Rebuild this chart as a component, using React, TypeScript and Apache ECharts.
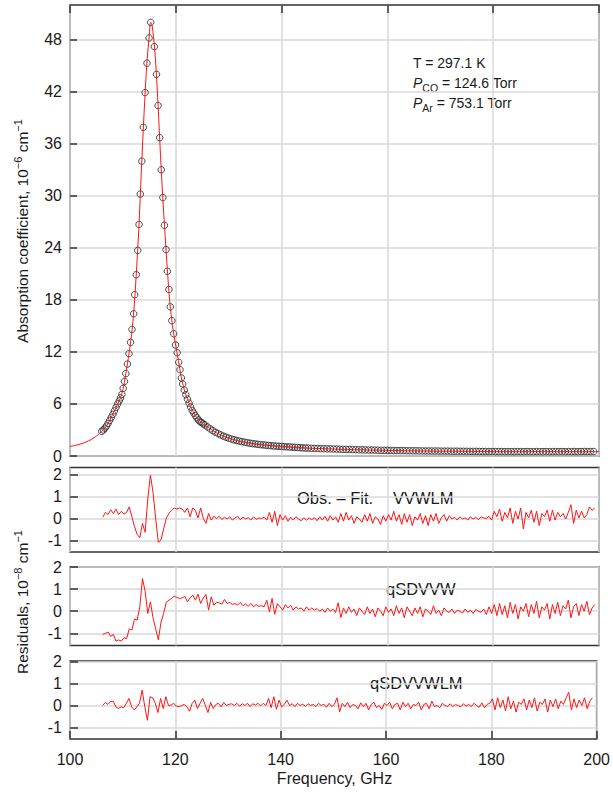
import React, { useEffect, useRef } from "react";
import * as echarts from "echarts";

// ---------- Data ----------
const obsFreq = [
  106.0, 106.3, 106.6, 106.9, 107.2, 107.5, 107.8, 108.1, 108.4, 108.7,
  109.0, 109.3, 109.55, 109.8, 110.05, 110.3, 110.55, 110.85, 111.15, 111.45,
  111.72, 112.04, 112.23, 112.53, 112.8, 113.05, 113.29, 113.58, 113.86, 114.2,
  114.55, 114.95, 115.25,
  115.95, 116.35, 116.65, 116.95, 117.25, 117.55, 117.85, 118.15, 118.4, 118.7,
  118.96, 119.25, 119.6, 119.95, 120.25, 120.55, 120.8, 121.05, 121.3, 121.6,
  121.9, 122.2, 122.5, 122.8, 123.1, 123.4, 123.7, 124.0, 124.3, 124.6,
  124.9, 125.2,
  125.5, 126.0, 126.5, 127.0, 127.5, 128.0, 128.5, 129.0, 129.5, 130.0,
  130.5, 131.0, 131.5, 132.0, 132.5, 133.0, 133.5, 134.0, 134.5, 135.0,
  135.5, 136.0, 136.5, 137.0, 137.5, 138.0, 138.5, 139.0, 139.5, 140.0,
  140.5, 141.0, 141.5, 142.0, 142.5, 143.0, 143.5, 144.0, 144.5, 145.0,
  145.6, 146.2, 146.8, 147.4, 148.0, 148.6, 149.2, 149.8, 150.4, 151.0,
  151.6, 152.2, 152.8, 153.4, 154.0, 154.6, 155.2, 155.8, 156.4, 157.0,
  157.6, 158.2, 158.8, 159.4, 160.0, 160.6, 161.2, 161.8, 162.4, 163.0,
  163.6, 164.2, 164.8, 165.4, 166.0, 166.6, 167.2, 167.8, 168.4, 169.0,
  169.6, 170.2, 170.8, 171.4, 172.0, 172.6, 173.2, 173.8, 174.4, 175.0,
  175.6, 176.2, 176.8, 177.4, 178.0, 178.6, 179.2, 179.8, 180.4, 181.0,
  181.6, 182.2, 182.8, 183.4, 184.0, 184.6, 185.2, 185.8, 186.4, 187.0,
  187.6, 188.2, 188.8, 189.4, 190.0, 190.6, 191.2, 191.8, 192.4, 193.0,
  193.6, 194.2, 194.8, 195.4, 196.0, 196.6, 197.2, 197.8, 198.4, 199.0,
];
const obsVal = [
  2.85, 3.0, 3.2, 3.45, 3.75, 4.1, 4.45, 4.8, 5.2, 5.6,
  6.0, 6.35, 6.7, 7.1, 7.8, 8.6, 9.5, 10.6, 11.8, 13.1,
  14.6, 16.4, 18.6, 20.9, 23.7, 26.7, 30.2, 34.0, 37.9, 41.9,
  45.3, 48.2, 50.0,
  47.2, 44.0, 40.4, 36.7, 33.0, 29.8, 26.6, 23.8, 21.3, 19.2,
  17.2, 15.6, 14.1, 12.8, 11.9, 10.8, 9.95, 9.0, 8.3, 7.6,
  7.07, 6.55, 6.1, 5.65, 5.25, 4.95, 4.65, 4.4, 4.15, 3.95,
  3.85, 3.7,
  3.58, 3.35, 3.12, 2.92, 2.74, 2.58, 2.43, 2.29, 2.17, 2.06,
  1.96, 1.87, 1.79, 1.72, 1.65, 1.59, 1.53, 1.48, 1.43, 1.39,
  1.35, 1.31, 1.28, 1.25, 1.22, 1.19, 1.16, 1.14, 1.12, 1.1,
  1.08, 1.06, 1.04, 1.02, 1.0, 0.98, 0.96, 0.94, 0.92, 0.91,
  0.89, 0.88, 0.87, 0.85, 0.84, 0.83, 0.82, 0.81, 0.8, 0.78,
  0.77, 0.76, 0.75, 0.74, 0.73, 0.72, 0.71, 0.7, 0.69, 0.69,
  0.68, 0.67, 0.66, 0.65, 0.65, 0.64, 0.63, 0.63, 0.62, 0.62,
  0.61, 0.61, 0.6, 0.6, 0.59, 0.59, 0.58, 0.58, 0.57, 0.57,
  0.57, 0.56, 0.56, 0.56, 0.55, 0.55, 0.55, 0.54, 0.54, 0.54,
  0.53, 0.53, 0.53, 0.52, 0.52, 0.52, 0.52, 0.51, 0.51, 0.51,
  0.51, 0.5, 0.51, 0.5, 0.5, 0.51, 0.5, 0.5, 0.51, 0.5,
  0.5, 0.51, 0.5, 0.5, 0.51, 0.5, 0.5, 0.51, 0.5, 0.51,
  0.5, 0.51, 0.5, 0.51, 0.5, 0.51, 0.52, 0.51, 0.51, 0.52,
];

const fitFreq = [
  100, 101, 102, 103, 104, 105, 106, 107, 108, 109,
  109.5, 110, 110.5, 111, 111.5, 112, 112.5, 113, 113.5, 114,
  114.5, 115, 115.25, 115.5, 116, 116.5, 117, 117.5, 118, 118.5,
  119, 119.5, 120, 120.5, 121, 121.5, 122, 122.5, 123, 123.5,
  124, 125, 126, 127, 128, 129, 130, 132, 134, 136,
  138, 140, 142, 145, 150, 155, 160, 165, 170, 175,
  180, 190, 200,
];
const fitVal = [
  1.1, 1.22, 1.38, 1.6, 1.9, 2.3, 2.85, 3.55, 4.7, 6.0,
  6.65, 7.65, 9.3, 11.2, 13.3, 16.2, 20.7, 26.1, 33.0, 39.5,
  45.0, 48.6, 50.0, 49.7, 47.0, 42.2, 36.0, 30.2, 25.3, 20.6,
  16.9, 14.5, 12.7, 11.0, 9.2, 7.85, 6.9, 6.1, 5.4, 4.85,
  4.4, 3.75, 3.35, 2.92, 2.58, 2.29, 2.06, 1.72, 1.48, 1.31,
  1.19, 1.1, 1.02, 0.91, 0.8, 0.71, 0.65, 0.6, 0.56, 0.54,
  0.51, 0.5, 0.5,
];

const residFreq = [
  106.2, 106.7, 107.2, 107.7, 108.2, 108.7, 109.2, 109.7, 110.2, 110.7,
  111.2, 111.7, 112.2, 112.7, 113.2, 113.7, 114.2, 114.7, 115.2, 115.7,
  116.2, 116.7, 117.2, 117.7, 118.2, 118.7, 119.2, 119.7, 120.2, 120.7,
  121.2, 121.7, 122.2, 122.7, 123.2, 123.7, 124.2, 124.7, 125.2, 125.7,
  126.2, 126.7, 127.2, 127.7, 128.2, 128.7, 129.2, 129.7, 130.2, 130.7,
  131.2, 131.7, 132.2, 132.7, 133.2, 133.7, 134.2, 134.7, 135.2, 135.7,
  136.2, 136.7, 137.2, 137.7, 138.2, 138.7, 139.2, 139.7, 140.2, 140.7,
  141.2, 141.7, 142.2, 142.7, 143.2, 143.7, 144.2, 144.7, 145.2, 145.7,
  146.2, 146.7, 147.2, 147.7, 148.2, 148.7, 149.2, 149.7, 150.2, 150.7,
  151.2, 151.7, 152.2, 152.7, 153.2, 153.7, 154.2, 154.7, 155.2, 155.7,
  156.2, 156.7, 157.2, 157.7, 158.2, 158.7, 159.2, 159.7, 160.2, 160.7,
  161.2, 161.7, 162.2, 162.7, 163.2, 163.7, 164.2, 164.7, 165.2, 165.7,
  166.2, 166.7, 167.2, 167.7, 168.2, 168.7, 169.2, 169.7, 170.2, 170.7,
  171.2, 171.7, 172.2, 172.7, 173.2, 173.7, 174.2, 174.7, 175.2, 175.7,
  176.2, 176.7, 177.2, 177.7, 178.2, 178.7, 179.2, 179.7, 180.2, 180.7,
  181.2, 181.7, 182.2, 182.7, 183.2, 183.7, 184.2, 184.7, 185.2, 185.7,
  186.2, 186.7, 187.2, 187.7, 188.2, 188.7, 189.2, 189.7, 190.2, 190.7,
  191.2, 191.7, 192.2, 192.7, 193.2, 193.7, 194.2, 194.7, 195.2, 195.7,
  196.2, 196.7, 197.2, 197.7, 198.2, 198.7, 199.2,
];

const residVVWLM = [
  0.08, 0.3, 0.2, 0.42, 0.25, 0.45, 0.2, 0.35, 0.22, 0.3,
  0.55, 0.1, -0.35, -0.7, -0.85, -0.2, -0.6, 0.9, 2.0, 1.2,
  0.0, -1.06, -0.95, -0.45, 0.03, 0.25, 0.4, 0.5, 0.45, 0.5,
  0.45, 0.3, 0.5, 0.1, 0.5, 0.4, 0.05, 0.5, 0.03, -0.2,
  0.25, -0.05, 0.12, 0.02, 0.12, -0.02, 0.08, 0.0, 0.1, -0.05,
  0.05, 0.12, -0.03, 0.08, 0.0, 0.06, -0.05, 0.1, -0.02, 0.05,
  0.02, 0.08, -0.05, 0.3, -0.15, 0.35, -0.3, 0.2, -0.05, 0.15,
  -0.1, 0.08, -0.05, 0.1, 0.0, -0.08, 0.06, -0.05, 0.05, -0.03,
  0.06, -0.08, 0.1, -0.05, 0.12, -0.1, 0.15, -0.05, 0.1, -0.15,
  0.25, -0.1, 0.3, -0.05, 0.15, -0.2, 0.1, 0.0, -0.15, 0.2,
  -0.1, 0.25, -0.2, 0.1, 0.0, -0.25, 0.15, -0.1, 0.2, -0.05,
  0.35, -0.1, 0.2, -0.25, 0.25, -0.15, 0.2, -0.3, 0.1, -0.05,
  0.25, -0.2, 0.15, -0.3, 0.2, -0.1, 0.25, -0.2, 0.05, 0.2,
  -0.1, 0.15, 0.0, 0.08, -0.05, 0.1, 0.0, 0.05, -0.05, 0.1,
  0.0, 0.08, -0.03, 0.1, 0.05, 0.02, 0.12, -0.05, 0.35, 0.1,
  0.45, -0.1, 0.3, 0.05, 0.5, -0.2, 0.35, 0.0, 0.5, -0.45,
  0.3, 0.05, 0.4, -0.15, 0.35, -0.3, 0.25, 0.1, 0.4, -0.1,
  0.4, -0.05, 0.3, 0.1, 0.25, 0.0, 0.3, 0.65, -0.2, 0.4,
  0.05, 0.35, 0.05, 0.2, 0.55, 0.4, 0.5,
];

const residQSDVVW = [
  -1.05, -1.0, -0.94, -1.14, -1.05, -1.35, -1.3, -1.35, -1.2, -1.24,
  -0.8, -0.85, -0.35, -0.4, 0.2, 1.48, 0.9, -0.1, 0.42, -0.3,
  -0.8, -1.29, -0.5, -0.1, 0.4, 0.5, 0.58, 0.68, 0.62, 0.58,
  0.6, 0.68, 0.42, 0.6, 0.73, 0.5, 0.77, 0.35, 0.6, 0.76,
  0.05, 0.65, 0.27, 0.4, 0.38, 0.32, 0.53, 0.35, 0.4, 0.3,
  0.35, 0.28, 0.4, 0.25, 0.33, 0.22, 0.35, 0.2, 0.3, 0.22,
  0.25, 0.2, 0.5, -0.03, 0.58, -0.14, 0.35, 0.2, 0.05, 0.3,
  0.15, 0.27, 0.05, 0.2, 0.1, 0.15, 0.0, 0.2, 0.05, 0.15,
  0.05, 0.12, 0.0, 0.1, -0.05, 0.15, 0.0, 0.1, -0.05, 0.38,
  -0.29, 0.15, -0.1, 0.2, -0.05, 0.1, -0.2, 0.15, 0.0, -0.15,
  0.2, -0.1, 0.1, -0.25, 0.15, 0.0, -0.2, 0.2, -0.05, 0.1,
  -0.2, 0.25, -0.1, 0.15, -0.3, 0.2, 0.0, -0.2, 0.15, -0.1,
  0.2, -0.25, 0.1, 0.0, -0.15, 0.25, -0.1, 0.05, -0.2, 0.15,
  0.0, -0.05, 0.1, -0.1, 0.05, 0.0, -0.08, 0.1, -0.05, 0.05,
  -0.1, 0.08, 0.0, -0.05, 0.1, -0.15, 0.2, -0.1, 0.3, -0.2,
  0.35, -0.15, 0.25, -0.3, 0.4, -0.1, 0.3, -0.35, 0.2, 0.0,
  0.35, -0.25, 0.3, -0.1, 0.45, -0.3, 0.2, 0.05, 0.35, -0.35,
  0.3, -0.1, 0.4, -0.2, 0.25, 0.1, 0.5, -0.3, 0.2, 0.35,
  -0.2, 0.3, 0.0, 0.45, -0.15, 0.15, 0.3,
];

const residQSDVVWLM = [
  0.0, 0.14, 0.05, 0.18, 0.2, -0.06, -0.14, -0.06, -0.1, 0.1,
  0.32, -0.06, -0.2, -0.06, 0.1, 0.7, -0.06, -0.67, 0.4, 0.35,
  0.1, -0.32, 0.32, -0.14, 0.4, 0.0, 0.02, 0.1, -0.03, -0.06,
  0.0, 0.05, -0.06, -0.26, 0.1, 0.24, -0.14, 0.1, 0.32, 0.0,
  -0.32, 0.14, -0.14, 0.05, 0.1, -0.06, 0.14, 0.0, 0.05, 0.08,
  0.0, 0.1, -0.03, 0.08, 0.0, 0.1, -0.05, 0.08, 0.02, 0.1,
  -0.02, 0.1, 0.0, 0.32, -0.1, 0.4, -0.17, 0.24, -0.06, 0.05,
  0.24, 0.0, 0.08, -0.05, 0.1, 0.0, 0.06, -0.04, 0.08, 0.0,
  0.05, -0.05, 0.1, 0.0, 0.06, -0.08, 0.1, -0.05, 0.05, 0.35,
  -0.29, 0.1, -0.05, 0.15, -0.1, 0.05, 0.0, -0.15, 0.12, -0.05,
  0.1, -0.2, 0.05, 0.15, -0.1, 0.0, -0.18, 0.1, 0.0, 0.15,
  -0.15, 0.05, 0.1, -0.2, 0.15, -0.05, 0.1, -0.15, 0.05, 0.0,
  0.15, -0.2, 0.05, 0.1, -0.15, 0.2, -0.05, 0.0, -0.1, 0.1,
  0.0, -0.05, 0.08, -0.05, 0.05, 0.0, -0.06, 0.08, -0.03, 0.05,
  -0.05, 0.1, 0.0, -0.08, 0.12, -0.1, 0.05, 0.1, 0.3, -0.2,
  0.35, -0.1, 0.25, -0.25, 0.4, -0.15, 0.2, -0.3, 0.15, 0.05,
  0.3, -0.2, 0.25, -0.1, 0.35, -0.25, 0.15, 0.05, 0.3, -0.3,
  0.25, -0.05, 0.3, -0.15, 0.2, 0.05, 0.35, 0.6, -0.2, 0.3,
  -0.1, 0.25, 0.0, 0.35, -0.15, 0.2, 0.35,
];

const absTicks = [0, 6, 12, 18, 24, 30, 36, 42, 48];
const residTicks = [-1, 0, 1, 2];

// ---------- Chart ----------
const FONT = '"Liberation Sans", Arial, Helvetica, sans-serif';
const RED = "#ff1414";
const DARK = "#333";
const TXT = "#1a1a1a";

export default function App() {
  const ref = useRef<HTMLDivElement>(null);

  useEffect(() => {
    if (!ref.current) return;
    const chart = echarts.init(ref.current, undefined, { renderer: "svg" });

    const gridDefs = [
      { top: 5, height: 451 },
      { top: 467.5, height: 84.5 },
      { top: 567, height: 78.5 },
      { top: 661, height: 78 },
    ];
    const grid = gridDefs.map((g) => ({
      left: 70,
      width: 529,
      top: g.top,
      height: g.height,
      show: true,
      borderColor: DARK,
      borderWidth: 1.5,
      backgroundColor: "transparent",
    }));

    const split = { show: true, lineStyle: { color: "#d9d9d9", width: 1.5 } };
    const tickIn = { show: true, inside: true, length: 8, lineStyle: { color: DARK, width: 1.5 } };
    const label = { fontSize: 16, color: TXT, fontFamily: FONT };

    const xBase = {
      type: "value",
      min: 100,
      max: 200,
      interval: 20,
      splitLine: split,
      axisLine: { show: false, onZero: false },
      axisTick: { show: false },
      axisLabel: { show: false },
    };
    const xAxis = [
      { ...xBase, gridIndex: 0, position: "top", axisTick: tickIn },
      { ...xBase, gridIndex: 1 },
      { ...xBase, gridIndex: 2 },
      {
        ...xBase,
        gridIndex: 3,
        position: "bottom",
        axisTick: tickIn,
        axisLabel: { show: true, margin: 12, ...label },
      },
    ];

    const residRanges = [
      { min: -1.5, max: 2.34 },
      { min: -1.55, max: 2.0 },
      { min: -1.52, max: 2.02 },
    ];
    const yAxis = [
      {
        type: "value",
        gridIndex: 0,
        min: 0,
        max: 52,
        axisLine: { show: false, onZero: false },
        axisTick: { ...tickIn, length: 7, customValues: absTicks },
        axisLabel: { ...label, margin: 8, customValues: absTicks },
        splitLine: split,
      },
      ...residRanges.map((r, i) => ({
        type: "value",
        gridIndex: i + 1,
        min: r.min,
        max: r.max,
        axisLine: { show: false, onZero: false },
        axisTick: { ...tickIn, length: 8, customValues: residTicks },
        axisLabel: { ...label, margin: 8, customValues: residTicks },
        splitLine: split,
      })),
    ];

    const pairs = (xs: number[], ys: number[]) => xs.map((x, i) => [x, ys[i]]);
    const residLine = (idx: number, ys: number[]) => ({
      type: "line",
      xAxisIndex: idx,
      yAxisIndex: idx,
      data: pairs(residFreq, ys),
      symbol: "none",
      showSymbol: false,
      lineStyle: { color: RED, width: 1 },
      z: 3,
    });

    const series = [
      {
        type: "scatter",
        xAxisIndex: 0,
        yAxisIndex: 0,
        data: pairs(obsFreq, obsVal),
        symbol: "circle",
        symbolSize: 6.5,
        itemStyle: { color: "rgba(0,0,0,0)", borderColor: "#222", borderWidth: 1 },
        z: 2,
      },
      {
        type: "line",
        xAxisIndex: 0,
        yAxisIndex: 0,
        data: pairs(fitFreq, fitVal),
        smooth: 0.3,
        symbol: "none",
        showSymbol: false,
        lineStyle: { color: RED, width: 1 },
        z: 3,
      },
      residLine(1, residVVWLM),
      residLine(2, residQSDVVW),
      residLine(3, residQSDVVWLM),
    ];

    const txt = (x: number, y: number, text: string, size: number, extra: any = {}) => ({
      type: "text",
      x,
      y,
      silent: true,
      style: {
        text,
        fontSize: size,
        fontFamily: FONT,
        fill: TXT,
        align: "left",
        verticalAlign: "middle",
        ...extra,
      },
    });

    const annRich = {
      i: { fontSize: 14, fontStyle: "italic", fontFamily: FONT, fill: TXT, lineHeight: 20 },
      sub: { fontSize: 10.5, fontFamily: FONT, fill: TXT, lineHeight: 9, verticalAlign: "bottom" },
      n: { fontSize: 14, fontFamily: FONT, fill: TXT, lineHeight: 20 },
    };
    const titleRich = {
      a: { fontSize: 15.5, fontFamily: FONT, fill: TXT, lineHeight: 20 },
      s: { fontSize: 11, fontFamily: FONT, fill: TXT, lineHeight: 11, verticalAlign: "top" },
    };

    const graphic = [
      txt(413, 63, "T = 297.1 K", 14),
      txt(413, 83, "{i|P}{sub|CO}{n| = 124.6 Torr}", 14, { rich: annRich }),
      txt(413, 103, "{i|P}{sub|Ar}{n| = 753.1 Torr}", 14, { rich: annRich }),
      txt(297, 498, "Obs. \u2013 Fit.", 16.5),
      txt(393, 498, "VVWLM", 16.5),
      txt(386, 589, "qSDVVW", 16.5),
      txt(370, 683, "qSDVVWLM", 16.5),
      txt(334.5, 778, "Frequency, GHz", 16, { align: "center" }),
      {
        type: "text",
        x: 22,
        y: 231,
        rotation: Math.PI / 2,
        silent: true,
        style: {
          text: "{a|Absorption coefficient, 10}{s|\u22126}{a| cm}{s|\u22121}",
          rich: titleRich,
          fontFamily: FONT,
          fill: TXT,
          align: "center",
          verticalAlign: "middle",
        },
      },
      {
        type: "text",
        x: 22,
        y: 602,
        rotation: Math.PI / 2,
        silent: true,
        style: {
          text: "{a|Residuals, 10}{s|\u22128}{a| cm}{s|\u22121}",
          rich: titleRich,
          fontFamily: FONT,
          fill: TXT,
          align: "center",
          verticalAlign: "middle",
        },
      },
    ];

    chart.setOption({
      animation: false,
      backgroundColor: "#ffffff",
      textStyle: { fontFamily: FONT },
      grid,
      xAxis,
      yAxis,
      series,
      graphic,
    } as any);

    return () => chart.dispose();
  }, []);

  return (
    <div
      ref={ref}
      style={{ position: "absolute", left: 0, top: 0, width: 613, height: 793 }}
    />
  );
}
